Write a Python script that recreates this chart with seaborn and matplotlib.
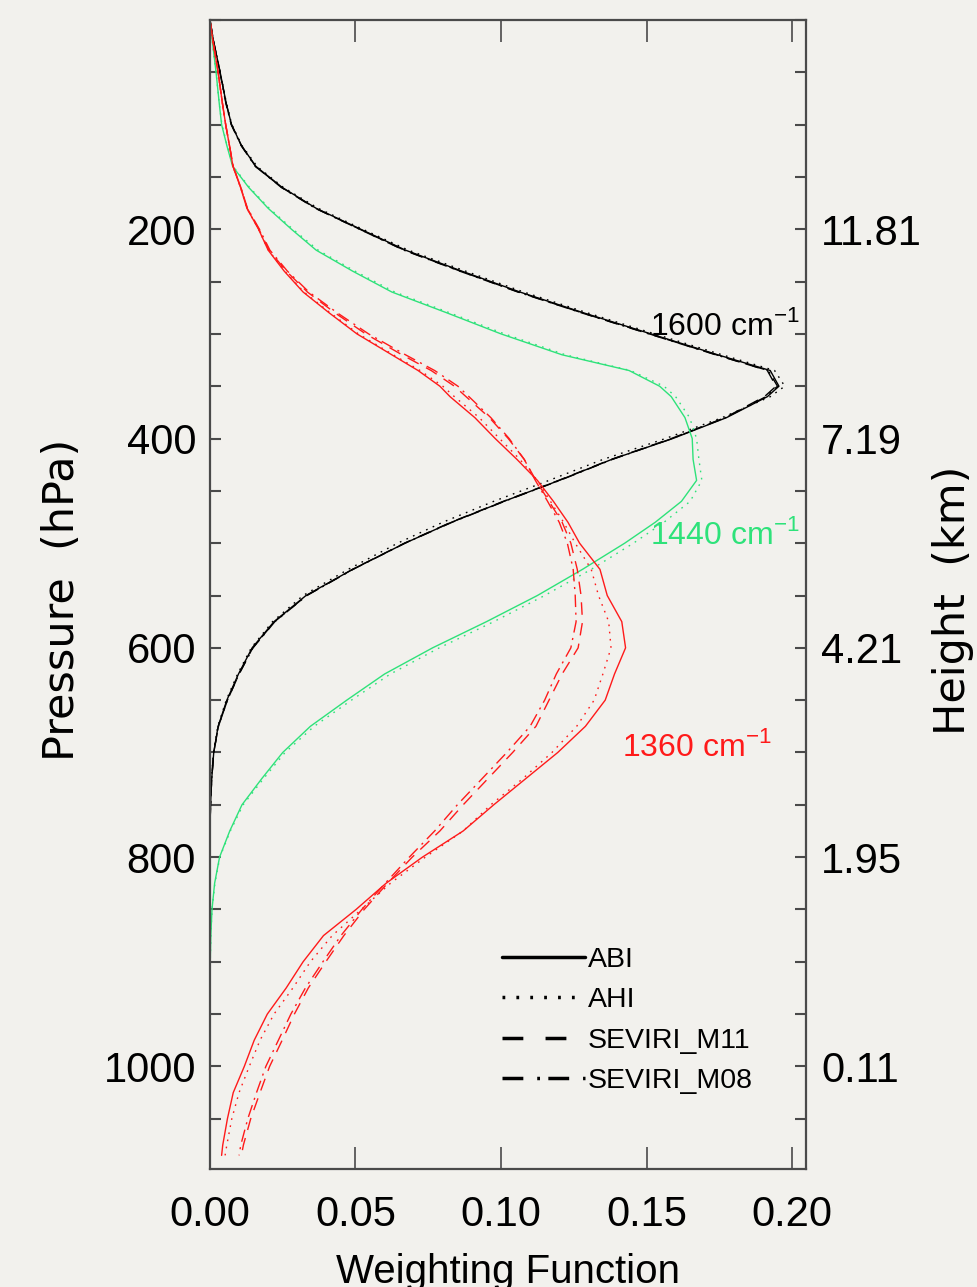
import numpy as np
import pandas as pd
import seaborn as sns
import matplotlib.pyplot as plt
from matplotlib.lines import Line2D
from matplotlib.ticker import MultipleLocator

# pressure levels (hPa) shared by every profile
P = [0, 20, 50, 80, 100, 120, 140, 160, 180, 200, 220, 240, 260, 280, 300,
     320, 335, 350, 360, 380, 400, 420, 440, 460, 480, 500, 525, 550, 575, 600,
     625, 650, 675, 700, 725, 750, 775, 800, 825, 850, 875, 900, 925, 950, 975,
     1000, 1025, 1050, 1075, 1085]

# 1600 cm-1 channel
w_1600_abi = [0, 0.0012, 0.0035, 0.0056, 0.0074, 0.0108, 0.0158, 0.0248, 0.0365, 0.0518,
              0.0672, 0.0865, 0.1065, 0.1285, 0.1515, 0.1745, 0.1925, 0.1955, 0.1915, 0.1775,
              0.1590, 0.1380, 0.1200, 0.1010, 0.0830, 0.0670, 0.0490, 0.0330, 0.0220, 0.0145,
              0.0098, 0.0058, 0.0028, 0.0013, 0.0006, 0.0002, 0, 0, 0, 0,
              0, 0, 0, 0, 0, 0, 0, 0, 0, 0]
w_1600_ahi = [0, 0.0012, 0.0035, 0.0057, 0.0075, 0.0110, 0.0162, 0.0252, 0.0372, 0.0525,
              0.0682, 0.0878, 0.1078, 0.1298, 0.1528, 0.1760, 0.1940, 0.1975, 0.1925, 0.1760,
              0.1565, 0.1350, 0.1165, 0.0975, 0.0800, 0.0645, 0.0475, 0.0320, 0.0215, 0.0142,
              0.0095, 0.0056, 0.0027, 0.0012, 0.0005, 0.0002, 0, 0, 0, 0,
              0, 0, 0, 0, 0, 0, 0, 0, 0, 0]
w_1600_m11 = [0, 0.0012, 0.0035, 0.0056, 0.0074, 0.0108, 0.0157, 0.0246, 0.0363, 0.0515,
              0.0668, 0.0860, 0.1060, 0.1280, 0.1510, 0.1740, 0.1915, 0.1945, 0.1905, 0.1770,
              0.1585, 0.1378, 0.1198, 0.1008, 0.0828, 0.0668, 0.0490, 0.0332, 0.0222, 0.0147,
              0.0100, 0.0060, 0.0029, 0.0013, 0.0006, 0.0002, 0, 0, 0, 0,
              0, 0, 0, 0, 0, 0, 0, 0, 0, 0]
w_1600_m08 = [0, 0.0012, 0.0034, 0.0055, 0.0073, 0.0107, 0.0156, 0.0245, 0.0362, 0.0514,
              0.0666, 0.0858, 0.1058, 0.1278, 0.1508, 0.1738, 0.1918, 0.1950, 0.1910, 0.1772,
              0.1588, 0.1382, 0.1202, 0.1012, 0.0832, 0.0670, 0.0492, 0.0333, 0.0223, 0.0148,
              0.0100, 0.0060, 0.0029, 0.0013, 0.0006, 0.0002, 0, 0, 0, 0,
              0, 0, 0, 0, 0, 0, 0, 0, 0, 0]

# 1440 cm-1 channel (ABI and AHI only)
w_1440_abi = [0, 0.0008, 0.0021, 0.0032, 0.0040, 0.0058, 0.0078, 0.0133, 0.0200, 0.0280,
              0.0365, 0.0490, 0.0625, 0.0815, 0.1000, 0.1210, 0.1440, 0.1545, 0.1585, 0.1632,
              0.1657, 0.1660, 0.1672, 0.1620, 0.1530, 0.1425, 0.1280, 0.1125, 0.0950, 0.0765,
              0.0600, 0.0470, 0.0345, 0.0250, 0.0178, 0.0110, 0.0068, 0.0033, 0.0016, 0.0007,
              0.0003, 0.0001, 0, 0, 0, 0, 0, 0, 0, 0]
w_1440_ahi = [0, 0.0008, 0.0021, 0.0032, 0.0041, 0.0059, 0.0080, 0.0136, 0.0204, 0.0285,
              0.0372, 0.0498, 0.0635, 0.0825, 0.1012, 0.1222, 0.1445, 0.1560, 0.1600, 0.1648,
              0.1672, 0.1680, 0.1690, 0.1650, 0.1560, 0.1455, 0.1310, 0.1150, 0.0975, 0.0788,
              0.0620, 0.0486, 0.0358, 0.0258, 0.0184, 0.0114, 0.0070, 0.0034, 0.0017, 0.0007,
              0.0003, 0.0001, 0, 0, 0, 0, 0, 0, 0, 0]

# 1360 cm-1 channel
w_1360_abi = [0, 0.0010, 0.0028, 0.0043, 0.0054, 0.0067, 0.0079, 0.0105, 0.0127, 0.0167,
              0.0200, 0.0255, 0.0320, 0.0410, 0.0505, 0.0625, 0.0715, 0.0790, 0.0825, 0.0910,
              0.0980, 0.1055, 0.1125, 0.1180, 0.1230, 0.1270, 0.1340, 0.1365, 0.1415, 0.1428,
              0.1390, 0.1358, 0.1290, 0.1195, 0.1085, 0.0975, 0.0870, 0.0730, 0.0605, 0.0502,
              0.0390, 0.0320, 0.0262, 0.0197, 0.0152, 0.0118, 0.0080, 0.0060, 0.0044, 0.0040]
w_1360_ahi = [0, 0.0010, 0.0028, 0.0043, 0.0054, 0.0067, 0.0079, 0.0105, 0.0127, 0.0167,
              0.0201, 0.0257, 0.0323, 0.0414, 0.0510, 0.0630, 0.0722, 0.0800, 0.0840, 0.0925,
              0.0995, 0.1065, 0.1125, 0.1170, 0.1215, 0.1255, 0.1310, 0.1335, 0.1370, 0.1378,
              0.1350, 0.1320, 0.1260, 0.1175, 0.1075, 0.0965, 0.0870, 0.0740, 0.0620, 0.0520,
              0.0420, 0.0345, 0.0285, 0.0220, 0.0172, 0.0135, 0.0100, 0.0075, 0.0058, 0.0052]
w_1360_m11 = [0, 0.0010, 0.0028, 0.0043, 0.0054, 0.0067, 0.0080, 0.0106, 0.0128, 0.0168,
              0.0203, 0.0262, 0.0335, 0.0430, 0.0535, 0.0660, 0.0760, 0.0840, 0.0880, 0.0960,
              0.1025, 0.1080, 0.1120, 0.1165, 0.1210, 0.1240, 0.1262, 0.1275, 0.1280, 0.1265,
              0.1210, 0.1165, 0.1120, 0.1040, 0.0955, 0.0870, 0.0790, 0.0695, 0.0610, 0.0530,
              0.0460, 0.0398, 0.0338, 0.0290, 0.0248, 0.0205, 0.0172, 0.0140, 0.0115, 0.0108]
w_1360_m08 = [0, 0.0010, 0.0028, 0.0043, 0.0054, 0.0067, 0.0080, 0.0106, 0.0129, 0.0170,
              0.0206, 0.0266, 0.0340, 0.0438, 0.0545, 0.0672, 0.0772, 0.0852, 0.0890, 0.0965,
              0.1028, 0.1080, 0.1118, 0.1160, 0.1200, 0.1228, 0.1248, 0.1255, 0.1258, 0.1240,
              0.1190, 0.1150, 0.1100, 0.1020, 0.0935, 0.0850, 0.0772, 0.0685, 0.0602, 0.0522,
              0.0450, 0.0388, 0.0328, 0.0278, 0.0235, 0.0192, 0.0160, 0.0130, 0.0106, 0.0100]

instruments = ["ABI", "AHI", "SEVIRI_M11", "SEVIRI_M08"]
p_ticks = [200, 400, 600, 800, 1000]
h_labels = ["11.81", "7.19", "4.21", "1.95", "0.11"]
x_ticks = [0.00, 0.05, 0.10, 0.15, 0.20]

series = [("1600", "ABI", w_1600_abi), ("1600", "AHI", w_1600_ahi),
          ("1600", "SEVIRI_M11", w_1600_m11), ("1600", "SEVIRI_M08", w_1600_m08),
          ("1440", "ABI", w_1440_abi), ("1440", "AHI", w_1440_ahi),
          ("1360", "ABI", w_1360_abi), ("1360", "AHI", w_1360_ahi),
          ("1360", "SEVIRI_M11", w_1360_m11), ("1360", "SEVIRI_M08", w_1360_m08)]
df = pd.concat([pd.DataFrame({"pressure": P, "weight": w, "channel": ch, "instrument": ins})
                for ch, ins, w in series], ignore_index=True)

bg = "#f2f1ed"
spine_c = "#4a4a4a"
green = "#2ee27a"
red = "#ff1a1a"
palette = {"1600": "black", "1440": green, "1360": red}
dashes = {"ABI": "", "AHI": (1.2, 4), "SEVIRI_M11": (9, 6), "SEVIRI_M08": (9, 4, 1.5, 4)}

sns.set_style("ticks")
plt.rcParams["font.family"] = ["Liberation Sans", "DejaVu Sans"]
plt.rcParams["mathtext.fontset"] = "custom"
plt.rcParams["mathtext.rm"] = "Liberation Sans"
plt.rcParams["lines.scale_dashes"] = False
for k in ["text.color", "axes.labelcolor", "xtick.labelcolor", "ytick.labelcolor"]:
    plt.rcParams[k] = "black"

fig = plt.figure(figsize=(9.77, 12.87), dpi=100, facecolor=bg)
ax = fig.add_axes([0.2149, 0.0917, 0.6101, 0.8928])
ax.set_facecolor(bg)

sns.lineplot(data=df, x="weight", y="pressure", hue="channel", style="instrument",
             palette=palette, dashes=dashes, sort=False, estimator=None,
             linewidth=1.0, legend=False, ax=ax)

ax.set_xlim(0, 0.2048)
ax.set_ylim(1098, 0)
ax.set_xticks(x_ticks)
ax.set_xticklabels([f"{v:.2f}" for v in x_ticks], fontsize=30)
ax.set_yticks(p_ticks)
ax.set_yticklabels([str(v) for v in p_ticks], fontsize=30)
ax.yaxis.set_minor_locator(MultipleLocator(50))
ax.tick_params(axis="x", direction="in", length=16, width=1.2, color=spine_c,
               top=True, bottom=True, pad=19)
ax.tick_params(axis="y", which="both", direction="in", length=8, width=1.5,
               color=spine_c, left=True, right=False, pad=10)
for s in ax.spines.values():
    s.set_color(spine_c)
    s.set_linewidth(1.6)

ax2 = ax.twinx()
ax2.set_ylim(1098, 0)
ax2.set_yticks(p_ticks)
ax2.set_yticklabels(h_labels, fontsize=30)
ax2.yaxis.set_minor_locator(MultipleLocator(50))
ax2.tick_params(axis="y", which="both", direction="in", length=8, width=1.5,
                color=spine_c, pad=11)
for s in ax2.spines.values():
    s.set_visible(False)

ax.set_xlabel("Weighting Function", fontsize=29)
ax.xaxis.set_label_coords(0.5, -0.0735)
lab_font = {"family": "DejaVu Sans", "size": 31}
ax.set_ylabel("Pressure  (hPa)", fontdict=lab_font)
ax.yaxis.set_label_coords(-0.213, 0.495)
ax2.set_ylabel("Height  (km)", fontdict=lab_font)
ax2.yaxis.set_label_coords(1.211, 0.495)

ax.text(0.2027, 301, "1600 cm$^{-1}$", color="black", fontsize=23, ha="right", va="baseline")
ax.text(0.2027, 501, "1440 cm$^{-1}$", color=green, fontsize=23, ha="right", va="baseline")
ax.text(0.1931, 703, "1360 cm$^{-1}$", color=red, fontsize=23, ha="right", va="baseline")

handle_styles = ["-", (0, (2, 8)), (0, (15, 16)), (0, (15, 10, 2, 6))]
handles = [Line2D([], [], color="black", lw=2.5, linestyle=ls) for ls in handle_styles]
ax.legend(handles, instruments, loc="upper left", bbox_to_anchor=(0.49, 0.193),
          frameon=False, fontsize=20.5, handlelength=2.9, handletextpad=0.1,
          labelspacing=0.5, borderpad=0, borderaxespad=0)

fig.savefig("out.png", dpi=100, facecolor=bg)
